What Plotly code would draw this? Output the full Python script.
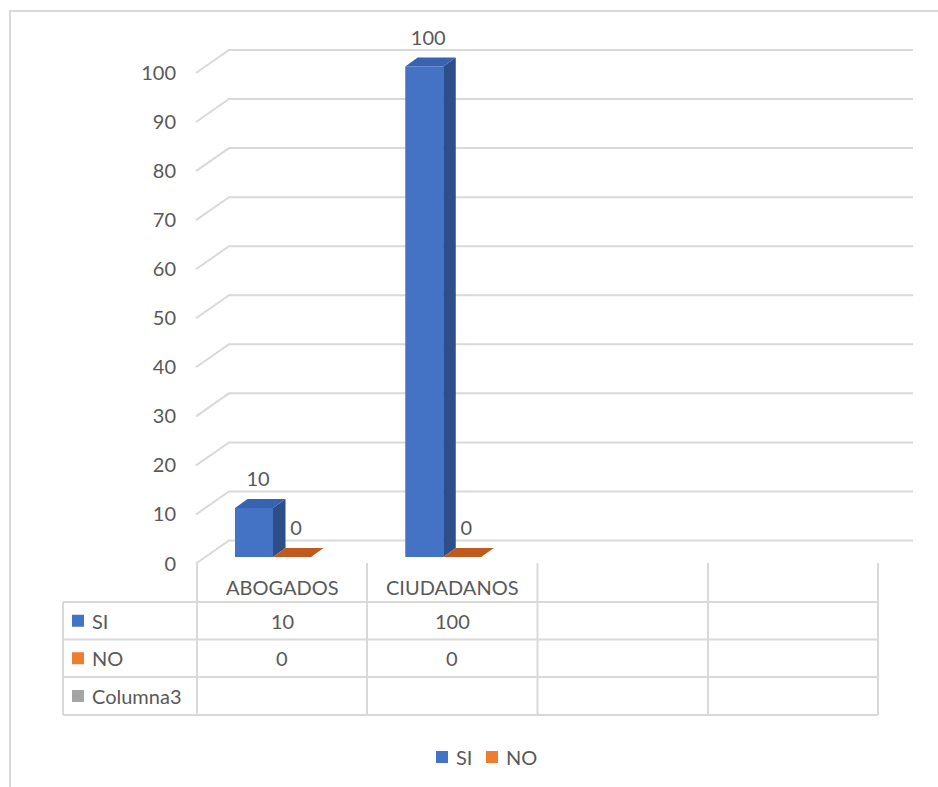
import plotly.graph_objects as go

# ---------------- data ----------------
categories = ["ABOGADOS", "CIUDADANOS", "", ""]
series_names = ["SI", "NO", "Columna3"]
si_values = [10, 100, None, None]
no_values = [0, 0, None, None]
col3_values = [None, None, None, None]
y_ticks = [0, 10, 20, 30, 40, 50, 60, 70, 80, 90, 100]
legend_series = ["SI", "NO"]

front_colors = ["#4472C4", "#ED7D31", "#A5A5A5"]
side_colors = ["#2D4E89", "#A8501A", "#7A7A7A"]
top_colors = ["#3863B0", "#C05A1C", "#8C8C8C"]

TEXT = "#595959"
GRID = "#D9D9D9"
FONT = "Lato"
FS = 20

W, H = 938, 787

# pixel <-> data helpers (layout geometry)
CAT0_PX, CAT_W = 282.0, 170.25
V0_PX, V_PX = 563.5, 4.905


def ux(px):
    return (px - CAT0_PX) / CAT_W


def vy(py):
    return (V0_PX - py) / V_PX


DU = 1.0 / CAT_W   # one pixel in category units
DV = 1.0 / V_PX    # one pixel in value units

# 3D geometry (in pixels)
bar_left_px = [-47, -9]      # front face left edge relative to category centre
bar_w_px = 38
bar_base_px = 6.5           # front face bottom above front zero plane
depth_dx, depth_dy = 12.5, 9.0
wall_dx_front, wall_dx_back, wall_right = 196, 229, 913
wall_dy = 23.0

fig = go.Figure()
shapes = []

# ---------------- 3D gridlines (floor-to-back wall), drawn below the bars ----------------
for t in y_ticks:
    path = "M {:.5f},{:.5f} L {:.5f},{:.5f} L {:.5f},{:.5f}".format(
        ux(wall_dx_front), t, ux(wall_dx_back), t + wall_dy * DV, ux(wall_right), t + wall_dy * DV)
    shapes.append(dict(type="path", xref="x", yref="y", path=path, layer="below",
                       line=dict(color=GRID, width=2)))

# ---------------- bars ----------------
series_values = [si_values, no_values, col3_values]
base_v = bar_base_px * DV
for s, (name, vals) in enumerate(zip(series_names[:2], series_values[:2])):
    xs, ys = [], []
    for i, v in enumerate(vals):
        if v is None:
            continue
        xs.append(i + (bar_left_px[s] + bar_w_px / 2) * DU)
        ys.append(v)
    fig.add_trace(go.Bar(x=xs, y=ys, base=[base_v] * len(xs), width=bar_w_px * DU,
                         marker=dict(color=front_colors[s], line=dict(width=0)),
                         name=name, showlegend=False, hoverinfo="skip"))
    # side and top faces
    sx, sy, tx, ty = [], [], [], []
    lx, ly, lt = [], [], []
    for i, v in enumerate(vals):
        if v is None:
            continue
        xl = i + bar_left_px[s] * DU
        xr = xl + bar_w_px * DU
        dx = depth_dx * DU
        dy = depth_dy * DV
        top = base_v + v
        if v > 0:
            sx += [xr, xr + dx, xr + dx, xr, xr, None]
            sy += [base_v, base_v + dy, top + dy, top, base_v, None]
        tx += [xl, xr, xr + dx, xl + dx, xl, None]
        ty += [top, top, top + dy, top + dy, top, None]
        lx.append(xl + (bar_w_px / 2 + 4) * DU)
        ly.append(top + 27 * DV)
        lt.append(str(v))
    if sx:
        fig.add_trace(go.Scatter(x=sx, y=sy, mode="lines", fill="toself",
                                 fillcolor=side_colors[s], line=dict(width=0),
                                 hoverinfo="skip", showlegend=False))
    fig.add_trace(go.Scatter(x=tx, y=ty, mode="lines", fill="toself",
                             fillcolor=top_colors[s], line=dict(width=0),
                             hoverinfo="skip", showlegend=False))
    fig.add_trace(go.Scatter(x=lx, y=ly, mode="text", text=lt,
                             textfont=dict(family=FONT, size=FS, color=TEXT),
                             textposition="middle center", cliponaxis=False,
                             hoverinfo="skip", showlegend=False))

# ---------------- data table ----------------
col_edges_px = [197, 367, 537.5, 708, 878]
row_edges_px = [602, 639.5, 677, 715]
table_left_px = 63
header_top_px = 563

line_style = dict(color=GRID, width=2)
for r in row_edges_px:
    shapes.append(dict(type="line", xref="x", yref="y", x0=ux(table_left_px), x1=ux(col_edges_px[-1]),
                       y0=vy(r), y1=vy(r), line=line_style))
for c in col_edges_px:
    shapes.append(dict(type="line", xref="x", yref="y", x0=ux(c), x1=ux(c),
                       y0=vy(header_top_px), y1=vy(row_edges_px[-1]), line=line_style))
shapes.append(dict(type="line", xref="x", yref="y", x0=ux(table_left_px), x1=ux(table_left_px),
                   y0=vy(row_edges_px[0]), y1=vy(row_edges_px[-1]), line=line_style))
# outer chart border
shapes.append(dict(type="rect", xref="paper", yref="paper", x0=10 / W, x1=1.05,
                   y0=-0.05, y1=1 - 11 / H, line=dict(color=GRID, width=2), fillcolor="rgba(0,0,0,0)",
                   layer="below"))

annotations = []
for i, cat in enumerate(categories):
    if cat:
        annotations.append(dict(x=i, y=vy(587), xref="x", yref="y", text=cat, showarrow=False,
                                font=dict(family=FONT, size=FS, color=TEXT),
                                xanchor="center", yanchor="middle"))
row_centers = [(row_edges_px[k] + row_edges_px[k + 1]) / 2 for k in range(3)]
for k, (name, vals) in enumerate(zip(series_names, series_values)):
    yc = vy(row_centers[k])
    annotations.append(dict(x=ux(90), y=yc, xref="x", yref="y", text=name, showarrow=False,
                            font=dict(family=FONT, size=FS, color=TEXT),
                            xanchor="left", yanchor="middle"))
    for i, v in enumerate(vals):
        if v is not None:
            annotations.append(dict(x=i, y=yc, xref="x", yref="y", text=str(v), showarrow=False,
                                    font=dict(family=FONT, size=FS, color=TEXT),
                                    xanchor="center", yanchor="middle"))
fig.add_trace(go.Scatter(x=[ux(78)] * 3, y=[vy(c) for c in row_centers], mode="markers",
                         marker=dict(symbol="square", size=12, color=front_colors, line=dict(width=0)),
                         hoverinfo="skip", showlegend=False))

# ---------------- legend (bottom) ----------------
legend_x_px = [442, 492]
legend_y = vy(757)
fig.add_trace(go.Scatter(x=[ux(p) for p in legend_x_px], y=[legend_y] * len(legend_series),
                         mode="markers",
                         marker=dict(symbol="square", size=12, color=front_colors[:len(legend_series)],
                                     line=dict(width=0)),
                         hoverinfo="skip", showlegend=False))
for p, name in zip(legend_x_px, legend_series):
    annotations.append(dict(x=ux(p + 12), y=legend_y, xref="x", yref="y", text=name, showarrow=False,
                            font=dict(family=FONT, size=FS, color=TEXT),
                            xanchor="left", yanchor="middle"))

fig.update_layout(
    width=W, height=H,
    margin=dict(l=0, r=0, t=0, b=0),
    paper_bgcolor="white", plot_bgcolor="white",
    barmode="overlay",
    xaxis=dict(range=[ux(0), ux(W)], visible=False, domain=[0, 1]),
    yaxis=dict(range=[vy(H), vy(0)], domain=[0, 1], anchor="free", position=176 / W,
               tickvals=y_ticks, ticktext=[str(t) for t in y_ticks], ticks="",
               showgrid=False, zeroline=False, showline=False,
               tickfont=dict(family=FONT, size=FS, color=TEXT)),
    shapes=shapes,
    annotations=annotations,
    showlegend=False,
)

fig.write_html("out.html", config={"displayModeBar": False},
               post_script="document.body.style.margin='0';")
